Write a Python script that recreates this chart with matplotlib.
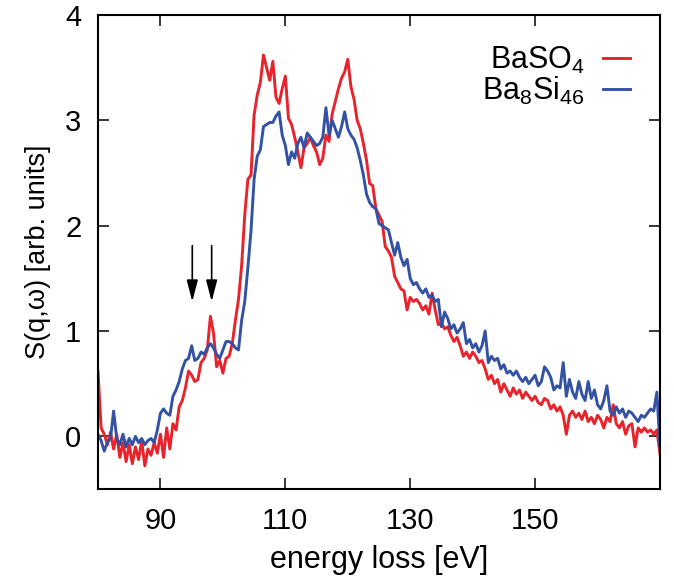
import numpy as np
import matplotlib
matplotlib.use('Agg')
import matplotlib.pyplot as plt

# energy grid (eV), 0.5 eV steps
energy = np.arange(80.0, 170.01, 0.5)

# S(q,w) for BaSO4
s_baso4 = [
    0.62, 0.08, 0.02, -0.08, 0.04, -0.12, 0.02, -0.20, -0.06, -0.24,
    -0.08, -0.26, -0.10, -0.22, -0.04, -0.28, -0.12, -0.18, -0.06, -0.16,
    0.02, -0.20, 0.08, -0.12, 0.12, 0.06, 0.28, 0.34, 0.46, 0.62,
    0.58, 0.52, 0.54, 0.70, 0.74, 0.82, 1.14, 0.98, 0.66, 0.72,
    0.60, 0.74, 0.76, 0.88, 1.10, 1.30, 1.62, 2.10, 2.44, 2.48,
    3.05, 3.24, 3.36, 3.62, 3.50, 3.38, 3.56, 3.22, 3.16, 3.30,
    3.42, 3.02, 2.96, 2.84, 2.70, 2.55, 2.74, 2.78, 2.84, 2.76,
    2.70, 2.58, 2.64, 2.86, 2.80, 3.06, 3.18, 3.30, 3.40, 3.46,
    3.58, 3.32, 3.20, 3.00, 2.92, 2.78, 2.62, 2.40, 2.38, 2.16,
    2.10, 2.04, 1.80, 1.76, 1.70, 1.52, 1.46, 1.40, 1.38, 1.20,
    1.32, 1.28, 1.30, 1.26, 1.20, 1.24, 1.16, 1.36, 1.20, 1.06,
    1.08, 1.02, 1.04, 0.96, 0.90, 0.94, 0.86, 0.76, 0.80, 0.74,
    0.80, 0.76, 0.70, 0.72, 0.64, 0.54, 0.58, 0.50, 0.54, 0.42,
    0.50, 0.44, 0.38, 0.46, 0.40, 0.44, 0.36, 0.42, 0.38, 0.34,
    0.38, 0.32, 0.30, 0.36, 0.34, 0.26, 0.30, 0.24, 0.28, 0.20,
    0.02, 0.20, 0.24, 0.18, 0.22, 0.16, 0.24, 0.14, 0.18, 0.12,
    0.20, 0.16, 0.08, 0.18, 0.14, 0.30, 0.12, 0.08, 0.14, 0.02,
    0.10, 0.12, -0.10, 0.08, 0.04, 0.08, 0.04, 0.06, 0.02, 0.06,
    -0.17,
]

# S(q,w) for Ba8Si46
s_ba8si46 = [
    0.02, -0.04, -0.14, -0.06, -0.02, 0.24, -0.02, -0.08, 0.02, -0.10,
    -0.02, -0.08, 0.00, -0.06, -0.02, -0.08, -0.04, -0.02, -0.06, 0.06,
    0.22, 0.26, 0.22, 0.20, 0.38, 0.44, 0.52, 0.64, 0.72, 0.74,
    0.86, 0.72, 0.74, 0.80, 0.78, 0.84, 0.88, 0.84, 0.78, 0.74,
    0.82, 0.90, 0.90, 0.88, 0.84, 0.82, 1.10, 1.28, 1.60, 1.95,
    2.44, 2.66, 2.72, 2.94, 2.96, 2.98, 2.98, 3.04, 3.08, 2.86,
    2.76, 2.58, 2.70, 2.64, 2.78, 2.84, 2.74, 2.88, 2.84, 2.80,
    2.76, 2.78, 2.84, 3.12, 2.86, 3.00, 2.92, 2.84, 2.94, 3.08,
    2.92, 2.86, 2.82, 2.74, 2.62, 2.48, 2.30, 2.22, 2.18, 2.16,
    2.02, 2.00, 1.98, 1.96, 1.84, 1.72, 1.84, 1.70, 1.62, 1.68,
    1.50, 1.44, 1.46, 1.40, 1.36, 1.40, 1.32, 1.34, 1.28, 1.30,
    1.04, 1.18, 1.12, 1.02, 1.06, 0.98, 1.02, 1.08, 0.88, 0.92,
    0.84, 0.88, 0.80, 0.86, 1.00, 0.70, 0.76, 0.72, 0.74, 0.64,
    0.68, 0.60, 0.62, 0.58, 0.62, 0.56, 0.52, 0.56, 0.50, 0.54,
    0.58, 0.48, 0.52, 0.66, 0.62, 0.56, 0.44, 0.48, 0.46, 0.70,
    0.38, 0.54, 0.42, 0.36, 0.52, 0.40, 0.34, 0.52, 0.36, 0.44,
    0.30, 0.26, 0.34, 0.48, 0.24, 0.20, 0.28, 0.22, 0.26, 0.18,
    0.24, 0.22, 0.18, 0.14, 0.20, 0.18, 0.22, 0.26, 0.24, 0.42,
    -0.10,
]

# arrows marking the pre-edge features
arrow_x = [95.1, 98.2]
arrow_top = 1.81
arrow_tip = 1.28

plt.rcParams['font.family'] = ['Liberation Sans', 'DejaVu Sans']
plt.rcParams['mathtext.fontset'] = 'custom'
plt.rcParams['mathtext.rm'] = 'Liberation Sans'
plt.rcParams['mathtext.it'] = 'Liberation Sans'

fig = plt.figure(figsize=(6.74, 5.86), dpi=100)
ax = fig.add_axes([98 / 674, 97 / 586, 562 / 674, 474 / 586])

ax.plot(energy, s_baso4, color='#e8232b', lw=2.1, label=r'BaSO$_4$')
ax.plot(energy, s_ba8si46, color='#3352a3', lw=2.1, label=r'Ba$_8$Si$_{46}$')

for xa in arrow_x:
    ax.annotate('', xy=(xa, arrow_tip), xytext=(xa, arrow_top),
                arrowprops=dict(arrowstyle='-|>,head_length=0.65,head_width=0.17',
                                mutation_scale=20, lw=1.2, color='black',
                                shrinkA=0, shrinkB=0))

ax.set_xlim(80, 170)
ax.set_ylim(-0.5, 4)
ax.set_xticks([90, 110, 130, 150])
ax.set_yticks([0, 1, 2, 3, 4])
ax.tick_params(direction='in', length=8, width=1.1, top=True, right=True,
               labelsize=21)
ax.tick_params(axis='x', pad=13)
ax.tick_params(axis='y', pad=12)
for sp in ax.spines.values():
    sp.set_linewidth(1.5)

ax.set_xlabel('energy loss [eV]', fontsize=22, labelpad=7)
ax.set_ylabel('S(q,ω) [arb. units]', fontsize=19.5, labelpad=10)

ax.legend(loc='upper right', bbox_to_anchor=(0.947, 0.937), frameon=False,
          markerfirst=False, fontsize=22, handlelength=0.88, handletextpad=0.6,
          labelspacing=-0.05, borderaxespad=0, borderpad=0)

fig.savefig('out.png', dpi=100)
